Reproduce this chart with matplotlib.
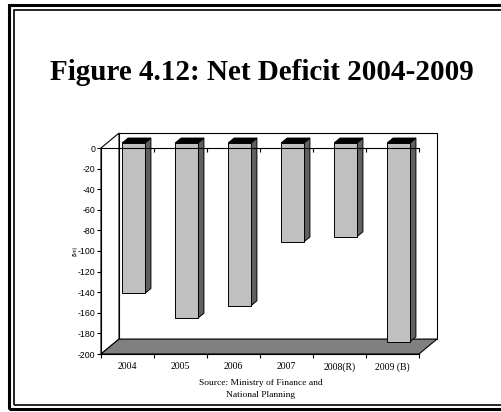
#!/usr/bin/env python3

import matplotlib
matplotlib.use('Agg')
import matplotlib.pyplot as plt
from matplotlib.patches import Polygon, Rectangle
import numpy as np

YEARS = ['2004', '2005', '2006', '2007', '2008(R)', '2009 (B)']
DEFICIT = [-146, -170, -158, -96, -91, -193]
Y_TICKS = list(range(-200, 1, 20))

W, H = 502, 412
DX, DY = 0.34, 14.5      # depth of the fake 3d box, in data units
BAR_W = 0.43

fig = plt.figure(figsize=(W / 100, H / 100), dpi=100)

# axes covers the front plane of the box
ax = fig.add_axes([101 / W, 1 - 354 / H, 318 / W, 206 / H])
ax.set_xlim(0, len(YEARS))
ax.set_ylim(-200, 0)
ax.patch.set_visible(False)

for s in ('top', 'right'):
    ax.spines[s].set_visible(False)
ax.spines['left'].set_linewidth(0.8)
ax.spines['bottom'].set_linewidth(0.8)
ax.spines['bottom'].set_zorder(6)

n = len(YEARS)
# back wall, left wall and floor
ax.add_patch(Polygon([(DX, DY), (n + DX, DY), (n + DX, -200 + DY), (DX, -200 + DY)],
                     closed=True, fc='white', ec='black', lw=0.8, zorder=1, clip_on=False))
ax.add_patch(Polygon([(0, 0), (DX, DY), (DX, -200 + DY), (0, -200)],
                     closed=True, fc='white', ec='black', lw=0.8, zorder=1, clip_on=False))
ax.add_patch(Polygon([(0, -200), (n, -200), (n + DX, -200 + DY), (DX, -200 + DY)],
                     closed=True, fc='#808080', ec='black', lw=0.8, zorder=2, clip_on=False))

# bars: front face, side face and top
x = np.arange(n) + 0.5
f_dx, f_dy = DX / 3, DY / 3
b_dx, b_dy = 2 * DX / 3, 2 * DY / 3
ax.bar(x + f_dx, DEFICIT, width=BAR_W, bottom=f_dy, color='#c0c0c0',
       edgecolor='black', linewidth=0.7, zorder=4, clip_on=False)
for xc, v in zip(x, DEFICIT):
    xl, xr = xc - BAR_W / 2, xc + BAR_W / 2
    ax.add_patch(Polygon([(xr + f_dx, f_dy), (xr + b_dx, b_dy), (xr + b_dx, v + b_dy),
                          (xr + f_dx, v + f_dy)],
                         closed=True, fc='#606060', ec='black', lw=0.7, zorder=3, clip_on=False))
    ax.add_patch(Polygon([(xl + f_dx, f_dy), (xr + f_dx, f_dy), (xr + b_dx, b_dy),
                          (xl + b_dx, b_dy)],
                         closed=True, fc='black', ec='black', lw=0.7, zorder=3, clip_on=False))

# x axis line at zero, drawn over the bars
ax.plot([0, n], [0, 0], color='black', lw=0.8, zorder=6, clip_on=False)
ax.vlines(np.arange(1, n + 1), -4, 0, color='black', lw=0.8, zorder=6, clip_on=False)

ax.set_yticks(Y_TICKS)
ax.set_yticklabels([str(t) for t in Y_TICKS], fontsize=6.3, family='Liberation Sans')
ax.tick_params(axis='y', length=3, width=0.8, pad=1)

ax.set_xticks(np.arange(0, n + 1))
ax.set_xticklabels([])
ax.set_xticks(x, minor=True)
ax.set_xticklabels(YEARS, minor=True, fontsize=7, family='Liberation Serif')
ax.tick_params(axis='x', which='major', length=3, width=0.8)
ax.tick_params(axis='x', which='minor', length=0, pad=6)

fig.text(75 / W, 1 - 251 / H, '($m)', rotation=90, fontsize=3.5,
         family='Liberation Sans', ha='center', va='center')

fig.text(262 / W, 1 - 72 / H, 'Figure 4.12: Net Deficit 2004-2009', fontsize=21,
         family='Liberation Serif', weight='bold', ha='center', va='center')

fig.text(261 / W, 1 - 383 / H, 'Source: Ministry of Finance and', fontsize=6.8,
         family='Liberation Serif', ha='center', va='center')
fig.text(261 / W, 1 - 395 / H, 'National Planning', fontsize=6.8,
         family='Liberation Serif', ha='center', va='center')

# double frame round the figure
fig.patches.append(Rectangle((9 / W, 1 - 408.5 / H), 520 / W, 403.5 / H,
                             transform=fig.transFigure, fill=False, ec='black', lw=2.2))
fig.patches.append(Rectangle((14 / W, 1 - 405 / H), 520 / W, 395 / H,
                             transform=fig.transFigure, fill=False, ec='black', lw=1.2))

fig.savefig('out.png', dpi=100)
